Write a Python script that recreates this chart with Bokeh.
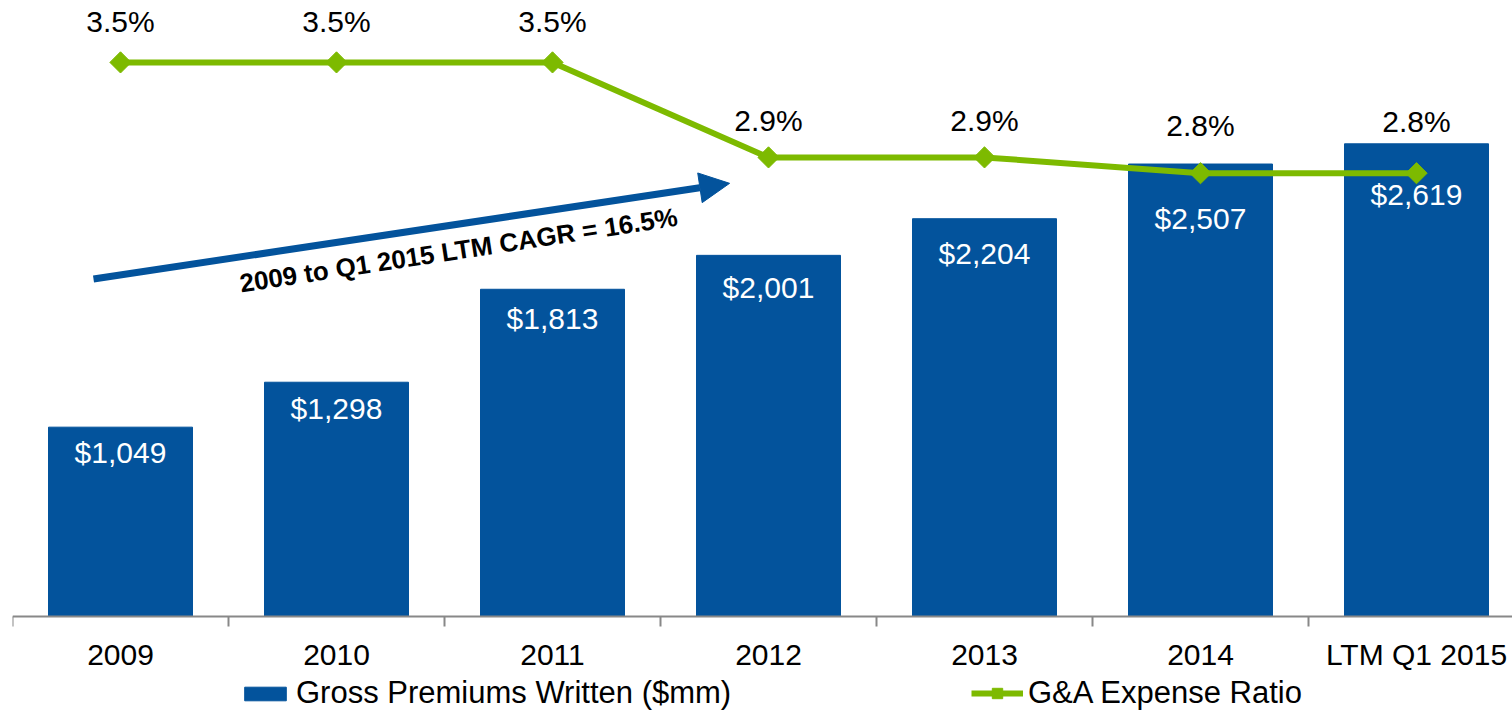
import math
from bokeh.plotting import figure
from bokeh.models import (Range1d, FixedTicker, Legend, LegendItem, Arrow, NormalHead,
                          Label, ColumnDataSource)
from bokeh.core.properties import value
from bokeh.embed import file_html
from bokeh.resources import INLINE

# ---- data ----
categories = ["2009", "2010", "2011", "2012", "2013", "2014", "LTM Q1 2015"]
gross_premiums = [1049, 1298, 1813, 2001, 2204, 2507, 2619]
ga_ratio = [3.5, 3.5, 3.5, 2.9, 2.9, 2.8, 2.8]
annotation_text = "2009 to Q1 2015 LTM CAGR = 16.5%"

# ---- styling / layout ----
BLUE = "#03539C"
GREEN = "#7DBA00"
FONT = "Liberation Sans"
bar_label_dy = [25, 26, 29, 32, 35, 54, 51]
pct_label_dy = [-41, -41, -41, -37, -37, -48, -52]

idx = list(range(len(categories)))
src = ColumnDataSource(dict(
    x=idx,
    gpw=gross_premiums,
    gpw_lbl=["$" + format(v, ",") for v in gross_premiums],
    gpw_dy=bar_label_dy,
    ratio=ga_ratio,
    ratio_lbl=[f"{v:.1f}%" for v in ga_ratio],
    ratio_dy=pct_label_dy,
))

W, H = 1512, 711
left_border = 12
frame_w = W - left_border
cat_px = 216.0
axis_px = 616          # screen y of the baseline
gpw_top = 3413         # value at the top edge
pct_top = 3.891
below_px = H - axis_px

p = figure(width=W, height=H, output_backend="svg", toolbar_location=None,
           x_range=Range1d(-0.5, -0.5 + frame_w / cat_px),
           y_range=Range1d(-below_px * gpw_top / axis_px, gpw_top),
           y_axis_location=None,
           min_border_left=left_border, min_border_right=0, min_border_top=0,
           min_border_bottom=0)
p.extra_y_ranges = {"pct": Range1d(-below_px * pct_top / axis_px, pct_top)}
p.outline_line_color = None
p.xgrid.visible = False
p.ygrid.visible = False
p.background_fill_color = "white"
p.border_fill_color = "white"

bars = p.vbar(x="x", top="gpw", bottom=0, width=2 / 3, source=src, fill_color=BLUE,
              line_color=BLUE)
p.text(x="x", y="gpw", text="gpw_lbl", y_offset="gpw_dy", source=src,
       text_align="center", text_baseline="middle", text_color="white",
       text_font=value(FONT), text_font_size="30px")

line = p.line(x="x", y="ratio", source=src, y_range_name="pct", line_color=GREEN,
              line_width=6)
marks = p.scatter(x="x", y="ratio", source=src, y_range_name="pct", marker="square",
                  angle=math.pi / 4, size=15, fill_color=GREEN, line_color=GREEN)
p.text(x="x", y="ratio", text="ratio_lbl", y_offset="ratio_dy", source=src,
       y_range_name="pct", text_align="center", text_baseline="middle",
       text_color="black", text_font=value(FONT), text_font_size="30px")

# axis, fixed at the baseline
ax = p.xaxis[0]
ax.fixed_location = 0
ax.ticker = FixedTicker(ticks=idx, minor_ticks=[i - 0.5 for i in range(len(categories) + 1)])
ax.major_label_overrides = {i: c for i, c in enumerate(categories)}
ax.major_tick_out = 0
ax.major_tick_in = 0
ax.minor_tick_out = 10
ax.minor_tick_in = 0
ax.minor_tick_line_color = "#888888"
ax.minor_tick_line_width = 2
ax.axis_line_color = "#888888"
ax.axis_line_width = 2
ax.major_label_standoff = 11
ax.major_label_text_font = FONT
ax.major_label_text_font_size = "30px"
ax.major_label_text_color = "black"

# CAGR arrow and text
p.add_layout(Arrow(end=NormalHead(size=30, fill_color=BLUE, line_color=BLUE, line_width=1),
                   x_start=-0.125, y_start=1870, x_end=2.82, y_end=2400,
                   line_color=BLUE, line_width=7))
p.add_layout(Label(x=1.565, y=2030, text=annotation_text, angle=8.7, angle_units="deg",
                   text_align="center", text_baseline="middle", text_font=FONT,
                   text_font_style="bold", text_font_size="26px", text_color="black"))

# legends below the axis labels
common = dict(orientation="horizontal", glyph_width=52, label_standoff=5,
              padding=0, margin=0, border_line_alpha=0, background_fill_alpha=0,
              label_text_font=FONT, label_text_font_size="31px", label_text_color="black")
leg1 = Legend(items=[LegendItem(label="Gross Premiums Written ($mm)", renderers=[bars])],
              location=(227, 0), glyph_height=17, **common)
leg2 = Legend(items=[LegendItem(label="G&A Expense Ratio", renderers=[line, marks])],
              location=(959, 0), glyph_height=26, **common)
p.add_layout(leg1, "center")
p.add_layout(leg2, "center")

open("out.html", "w").write(file_html(p, INLINE))
